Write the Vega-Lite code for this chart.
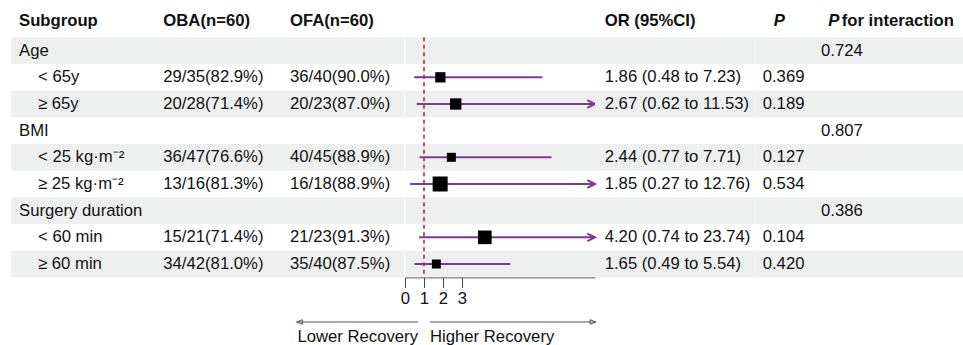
{
  "$schema": "https://vega.github.io/schema/vega-lite/v6.json",
  "padding": {"left": 11, "top": 10.667, "right": 0, "bottom": 0},
  "background": "white",
  "datasets": {
    "rows": [
      {"row": "1", "level": 0, "label": "Age", "pint": "0.724"},
      {"row": "2", "level": 1, "label": "< 65y", "oba": "29/35(82.9%)", "ofa": "36/40(90.0%)", "or": 1.86, "lo": 0.48, "hi": 7.23, "w": 0.47, "ci": "1.86 (0.48 to 7.23)", "p": "0.369"},
      {"row": "3", "level": 1, "label": "≥ 65y", "oba": "20/28(71.4%)", "ofa": "20/23(87.0%)", "or": 2.67, "lo": 0.62, "hi": 11.53, "w": 0.57, "ci": "2.67 (0.62 to 11.53)", "p": "0.189"},
      {"row": "4", "level": 0, "label": "BMI", "pint": "0.807"},
      {"row": "5", "level": 1, "label": "< 25 kg·m⁻²", "oba": "36/47(76.6%)", "ofa": "40/45(88.9%)", "or": 2.44, "lo": 0.77, "hi": 7.71, "w": 0.36, "ci": "2.44 (0.77 to 7.71)", "p": "0.127"},
      {"row": "6", "level": 1, "label": "≥ 25 kg·m⁻²", "oba": "13/16(81.3%)", "ofa": "16/18(88.9%)", "or": 1.85, "lo": 0.27, "hi": 12.76, "w": 1.0, "ci": "1.85 (0.27 to 12.76)", "p": "0.534"},
      {"row": "7", "level": 0, "label": "Surgery duration", "pint": "0.386"},
      {"row": "8", "level": 1, "label": "< 60 min", "oba": "15/21(71.4%)", "ofa": "21/23(91.3%)", "or": 4.2, "lo": 0.74, "hi": 23.74, "w": 0.83, "ci": "4.20 (0.74 to 23.74)", "p": "0.104"},
      {"row": "9", "level": 1, "label": "≥ 60 min", "oba": "34/42(81.0%)", "ofa": "35/40(87.5%)", "or": 1.65, "lo": 0.49, "hi": 5.54, "w": 0.36, "ci": "1.65 (0.49 to 5.54)", "p": "0.420"}
    ]
  },
  "config": {
    "view": {"stroke": null},
    "font": "Liberation Sans",
    "text": {"font": "Liberation Sans", "fontSize": 16.7, "color": "#111111", "align": "left", "baseline": "middle"}
  },
  "spacing": 0,
  "bounds": "flush",
  "hconcat": [
    {
      "width": 144, "height": 346.667,
      "data": {"name": "rows"},
      "layer": [
        {"transform": [{"filter": "toNumber(datum.row) % 2 == 1"}], "mark": {"type": "rect", "color": "#EEF0EF"},
         "encoding": {"x": {"datum": 0, "type": "quantitative", "scale": {"domain": [0, 1]}, "axis": null}, "x2": {"datum": 1},
                      "y": {"field": "row", "type": "nominal", "scale": {"domain": ["h","1","2","3","4","5","6","7","8","9","b1","b2","b3"], "paddingInner": 0, "paddingOuter": 0}, "axis": null}}},
        {"data": {"values": [{}]}, "mark": {"type": "text", "fontWeight": "bold", "dx": 8, "dy": -3},
         "encoding": {"x": {"datum": 0, "type": "quantitative"}, "y": {"datum": "h", "type": "nominal"}, "text": {"value": "Subgroup"}}},
        {"transform": [{"filter": "datum.level == 0"}], "mark": {"type": "text", "dx": 8},
         "encoding": {"x": {"datum": 0, "type": "quantitative"}, "y": {"field": "row", "type": "nominal"}, "text": {"field": "label"}}},
        {"transform": [{"filter": "datum.level == 1"}], "mark": {"type": "text", "dx": 27},
         "encoding": {"x": {"datum": 0, "type": "quantitative"}, "y": {"field": "row", "type": "nominal"}, "text": {"field": "label"}}}
      ]
    },
    {
      "width": 127, "height": 346.667,
      "data": {"name": "rows"},
      "layer": [
        {"transform": [{"filter": "toNumber(datum.row) % 2 == 1"}], "mark": {"type": "rect", "color": "#EEF0EF"},
         "encoding": {"x": {"datum": 0, "type": "quantitative", "scale": {"domain": [0, 1]}, "axis": null}, "x2": {"datum": 1},
                      "y": {"field": "row", "type": "nominal", "scale": {"domain": ["h","1","2","3","4","5","6","7","8","9","b1","b2","b3"], "paddingInner": 0, "paddingOuter": 0}, "axis": null}}},
        {"data": {"values": [{}]}, "mark": {"type": "text", "fontWeight": "bold", "dx": 8.3, "dy": -3},
         "encoding": {"x": {"datum": 0, "type": "quantitative"}, "y": {"datum": "h", "type": "nominal"}, "text": {"value": "OBA(n=60)"}}},
        {"transform": [{"filter": "isValid(datum.oba)"}], "mark": {"type": "text", "dx": 8.3},
         "encoding": {"x": {"datum": 0, "type": "quantitative"}, "y": {"field": "row", "type": "nominal"}, "text": {"field": "oba"}}}
      ]
    },
    {
      "width": 122.3, "height": 346.667,
      "data": {"name": "rows"},
      "layer": [
        {"transform": [{"filter": "toNumber(datum.row) % 2 == 1"}], "mark": {"type": "rect", "color": "#EEF0EF"},
         "encoding": {"x": {"datum": 0, "type": "quantitative", "scale": {"domain": [0, 1]}, "axis": null}, "x2": {"datum": 1},
                      "y": {"field": "row", "type": "nominal", "scale": {"domain": ["h","1","2","3","4","5","6","7","8","9","b1","b2","b3"], "paddingInner": 0, "paddingOuter": 0}, "axis": null}}},
        {"data": {"values": [{}]}, "mark": {"type": "text", "fontWeight": "bold", "dx": 8, "dy": -3},
         "encoding": {"x": {"datum": 0, "type": "quantitative"}, "y": {"datum": "h", "type": "nominal"}, "text": {"value": "OFA(n=60)"}}},
        {"transform": [{"filter": "isValid(datum.ofa)"}], "mark": {"type": "text", "dx": 8},
         "encoding": {"x": {"datum": 0, "type": "quantitative"}, "y": {"field": "row", "type": "nominal"}, "text": {"field": "ofa"}}}
      ]
    },
    {
      "width": 190, "height": 346.667,
      "data": {"name": "rows"},
      "layer": [
        {"transform": [{"filter": "toNumber(datum.row) % 2 == 1"}], "mark": {"type": "rect", "color": "#EEF0EF"},
         "encoding": {"x": {"datum": 0, "type": "quantitative", "scale": {"domain": [0, 10], "nice": false, "zero": false}}, "x2": {"datum": 10},
                      "y": {"field": "row", "type": "nominal", "scale": {"domain": ["h","1","2","3","4","5","6","7","8","9","b1","b2","b3"], "paddingInner": 0, "paddingOuter": 0}, "axis": null}}},
        {"data": {"values": [{}]}, "mark": {"type": "rule", "color": "#A3222B", "strokeDash": [4, 3.5], "strokeWidth": 1.5},
         "encoding": {"x": {"datum": 1, "type": "quantitative"}, "y": {"datum": "1", "type": "nominal", "bandPosition": 0}, "y2": {"datum": "9", "bandPosition": 1}}},
        {"transform": [{"filter": "isValid(datum.or)"}], "mark": {"type": "rule", "color": "#7E3794", "strokeWidth": 2, "clip": true},
         "encoding": {"x": {"field": "lo", "type": "quantitative", "title": null}, "x2": {"field": "hi"}, "y": {"field": "row", "type": "nominal"}}},
        {"transform": [{"filter": "datum.hi > 10"}], "mark": {"type": "point", "shape": "M-2,-1L0,0L-2,1", "filled": false, "stroke": "#7E3794", "strokeWidth": 2, "size": 58, "opacity": 1},
         "encoding": {"x": {"datum": 10, "type": "quantitative"}, "y": {"field": "row", "type": "nominal"}}},
        {"transform": [{"filter": "isValid(datum.or)"}], "mark": {"type": "point", "shape": "square", "filled": true, "color": "#000000", "opacity": 1},
         "encoding": {
           "x": {"field": "or", "type": "quantitative", "title": null,
                 "axis": {"values": [0, 1, 2, 3], "grid": false, "title": null, "offset": -80, "tickSize": 10, "labelFontSize": 16.7, "labelFont": "Liberation Sans", "labelColor": "#111111", "domainColor": "#444444", "tickColor": "#444444", "labelPadding": 3, "labelFlush": false, "labelOverlap": false}},
           "y": {"field": "row", "type": "nominal"},
           "size": {"field": "w", "type": "quantitative", "scale": {"type": "linear", "domain": [0, 1], "range": [0, 225], "zero": true}, "legend": null}}},
        {"data": {"values": [{}]}, "mark": {"type": "rule", "color": "#555555", "strokeWidth": 1},
         "encoding": {"x": {"datum": 0.684, "type": "quantitative"}, "x2": {"datum": -5.7}, "y": {"datum": "b2", "type": "nominal", "bandPosition": 0.675}}},
        {"data": {"values": [{}]}, "mark": {"type": "rule", "color": "#555555", "strokeWidth": 1},
         "encoding": {"x": {"datum": 1.316, "type": "quantitative"}, "x2": {"datum": 10.04}, "y": {"datum": "b2", "type": "nominal", "bandPosition": 0.675}}},
        {"data": {"values": [{}]}, "mark": {"type": "point", "shape": "M2,-0.8L0,0L2,0.8Z", "filled": false, "stroke": "#555555", "strokeWidth": 1, "size": 32, "opacity": 1},
         "encoding": {"x": {"datum": -5.7, "type": "quantitative"}, "y": {"datum": "b2", "type": "nominal", "bandPosition": 0.675}}},
        {"data": {"values": [{}]}, "mark": {"type": "point", "shape": "M-2,-0.8L0,0L-2,0.8Z", "filled": false, "stroke": "#555555", "strokeWidth": 1, "size": 32, "opacity": 1},
         "encoding": {"x": {"datum": 10.04, "type": "quantitative"}, "y": {"datum": "b2", "type": "nominal", "bandPosition": 0.675}}},
        {"data": {"values": [{}]}, "mark": {"type": "text", "align": "right"},
         "encoding": {"x": {"datum": 0.684, "type": "quantitative"}, "y": {"datum": "b3", "type": "nominal", "bandPosition": 0.22}, "text": {"value": "Lower Recovery"}}},
        {"data": {"values": [{}]}, "mark": {"type": "text", "align": "left"},
         "encoding": {"x": {"datum": 1.316, "type": "quantitative"}, "y": {"datum": "b3", "type": "nominal", "bandPosition": 0.22}, "text": {"value": "Higher Recovery"}}}
      ]
    },
    {
      "width": 160.7, "height": 346.667,
      "data": {"name": "rows"},
      "layer": [
        {"transform": [{"filter": "toNumber(datum.row) % 2 == 1"}], "mark": {"type": "rect", "color": "#EEF0EF"},
         "encoding": {"x": {"datum": 0, "type": "quantitative", "scale": {"domain": [0, 1]}, "axis": null}, "x2": {"datum": 1},
                      "y": {"field": "row", "type": "nominal", "scale": {"domain": ["h","1","2","3","4","5","6","7","8","9","b1","b2","b3"], "paddingInner": 0, "paddingOuter": 0}, "axis": null}}},
        {"data": {"values": [{}]}, "mark": {"type": "text", "fontWeight": "bold", "dx": 9.7, "dy": -3},
         "encoding": {"x": {"datum": 0, "type": "quantitative"}, "y": {"datum": "h", "type": "nominal"}, "text": {"value": "OR (95%CI)"}}},
        {"transform": [{"filter": "isValid(datum.ci)"}], "mark": {"type": "text", "dx": 9.7},
         "encoding": {"x": {"datum": 0, "type": "quantitative"}, "y": {"field": "row", "type": "nominal"}, "text": {"field": "ci"}}}
      ]
    },
    {
      "width": 58, "height": 346.667,
      "data": {"name": "rows"},
      "layer": [
        {"transform": [{"filter": "toNumber(datum.row) % 2 == 1"}], "mark": {"type": "rect", "color": "#EEF0EF"},
         "encoding": {"x": {"datum": 0, "type": "quantitative", "scale": {"domain": [0, 1]}, "axis": null}, "x2": {"datum": 1},
                      "y": {"field": "row", "type": "nominal", "scale": {"domain": ["h","1","2","3","4","5","6","7","8","9","b1","b2","b3"], "paddingInner": 0, "paddingOuter": 0}, "axis": null}}},
        {"data": {"values": [{}]}, "mark": {"type": "text", "fontWeight": "bold", "fontStyle": "italic", "dx": 17.7, "dy": -3},
         "encoding": {"x": {"datum": 0, "type": "quantitative"}, "y": {"datum": "h", "type": "nominal"}, "text": {"value": "P"}}},
        {"transform": [{"filter": "isValid(datum.p)"}], "mark": {"type": "text", "dx": 6.7},
         "encoding": {"x": {"datum": 0, "type": "quantitative"}, "y": {"field": "row", "type": "nominal"}, "text": {"field": "p"}}}
      ]
    },
    {
      "width": 150, "height": 346.667,
      "data": {"name": "rows"},
      "layer": [
        {"transform": [{"filter": "toNumber(datum.row) % 2 == 1"}], "mark": {"type": "rect", "color": "#EEF0EF"},
         "encoding": {"x": {"datum": 0, "type": "quantitative", "scale": {"domain": [0, 1]}, "axis": null}, "x2": {"datum": 1},
                      "y": {"field": "row", "type": "nominal", "scale": {"domain": ["h","1","2","3","4","5","6","7","8","9","b1","b2","b3"], "paddingInner": 0, "paddingOuter": 0}, "axis": null}}},
        {"data": {"values": [{}]}, "mark": {"type": "text", "fontWeight": "bold", "fontStyle": "italic", "dx": 14.3, "dy": -3},
         "encoding": {"x": {"datum": 0, "type": "quantitative"}, "y": {"datum": "h", "type": "nominal"}, "text": {"value": "P"}}},
        {"data": {"values": [{}]}, "mark": {"type": "text", "fontWeight": "bold", "dx": 27.7, "dy": -3},
         "encoding": {"x": {"datum": 0, "type": "quantitative"}, "y": {"datum": "h", "type": "nominal"}, "text": {"value": "for interaction"}}},
        {"transform": [{"filter": "isValid(datum.pint)"}], "mark": {"type": "text", "dx": 7},
         "encoding": {"x": {"datum": 0, "type": "quantitative"}, "y": {"field": "row", "type": "nominal"}, "text": {"field": "pint"}}}
      ]
    }
  ]
}
